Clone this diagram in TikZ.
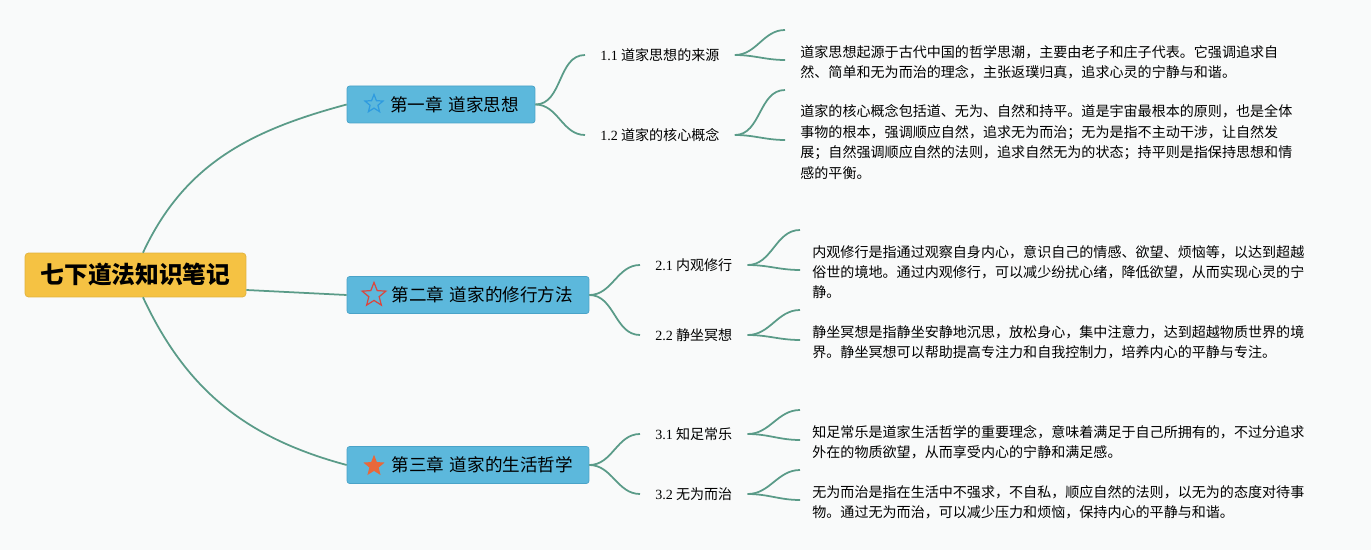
\documentclass[tikz,border=0pt]{standalone}
\usepackage{fontspec}
\setmainfont{Noto Sans CJK SC}
\newfontfamily\numfont{Liberation Serif}
\usetikzlibrary{shapes.geometric}
\definecolor{bgcol}{HTML}{F9FAFA}
\definecolor{rootcol}{HTML}{F5C243}
\definecolor{chapcol}{HTML}{5CB8DC}
\definecolor{chapline}{HTML}{4AA3C8}
\definecolor{linkcol}{HTML}{5A9B88}
\definecolor{staronecol}{HTML}{2F9BDF}
\definecolor{startwocol}{HTML}{D9473F}
\definecolor{starthreecol}{HTML}{E8683B}

\begin{document}
\begin{tikzpicture}[x=0.02cm, y=-0.02cm, rootbox/.style={fill=rootcol, draw=rootcol!92!black, rounded corners=2pt, minimum width=4.42cm, minimum height=0.88cm, font=\fontsize{13.5}{16}\selectfont\bfseries}, chap/.style={fill=chapcol, draw=chapline, rounded corners=1.5pt, inner xsep=0.32cm, minimum height=0.74cm, align=right, font=\fontsize{10}{12}\selectfont}, leaf/.style={anchor=west, inner xsep=0.3cm, font=\fontsize{8}{10}\selectfont}, note/.style={anchor=west, inner xsep=0.3cm, align=left, font=\fontsize{8}{11.6}\selectfont}, link/.style={draw=linkcol, line width=1pt}, starmark/.style={star, star points=5, star point ratio=2.3, inner sep=0pt, line width=0.7pt}]
\useasboundingbox[fill=bgcol] (0,0) rectangle (1371,550);
\node[rootbox] (root) at (135.5,275) {七下道法知识笔记};
\node[chap, text width=3.12cm] (ch1) at (441,104.5) {第一章 道家思想};
\node[chap, text width=4.2cm] (ch2) at (468,295) {第二章 道家的修行方法};
\node[chap, text width=4.2cm] (ch3) at (468,465) {第三章 道家的生活哲学};
\node[starmark, draw=staronecol, minimum size=0.38cm] (star1) at (374,104) {};
\node[starmark, draw=startwocol, minimum size=0.5cm] (star2) at (374,295) {};
\node[starmark, draw=starthreecol, fill=starthreecol, minimum size=0.38cm] (star3) at (374,466) {};
\node[leaf] (l11) at (585,55) {{\numfont 1.1} 道家思想的来源};
\node[leaf] (l12) at (585,135) {{\numfont 1.2} 道家的核心概念};
\node[leaf] (l21) at (640,265) {{\numfont 2.1} 内观修行};
\node[leaf] (l22) at (640,335) {{\numfont 2.2} 静坐冥想};
\node[leaf] (l31) at (640,434) {{\numfont 3.1} 知足常乐};
\node[leaf] (l32) at (640,494) {{\numfont 3.2} 无为而治};
\node[note] (d11) at (785,62) {道家思想起源于古代中国的哲学思潮，主要由老子和庄子代表。它强调追求自\\然、简单和无为而治的理念，主张返璞归真，追求心灵的宁静与和谐。};
\node[note] (d12) at (785,142) {道家的核心概念包括道、无为、自然和持平。道是宇宙最根本的原则，也是全体\\事物的根本，强调顺应自然，追求无为而治；无为是指不主动干涉，让自然发\\展；自然强调顺应自然的法则，追求自然无为的状态；持平则是指保持思想和情\\感的平衡。};
\node[note] (d21) at (797,272) {内观修行是指通过观察自身内心，意识自己的情感、欲望、烦恼等，以达到超越\\俗世的境地。通过内观修行，可以减少纷扰心绪，降低欲望，从而实现心灵的宁\\静。};
\node[note] (d22) at (797,342) {静坐冥想是指静坐安静地沉思，放松身心，集中注意力，达到超越物质世界的境\\界。静坐冥想可以帮助提高专注力和自我控制力，培养内心的平静与专注。};
\node[note] (d31) at (797,442) {知足常乐是道家生活哲学的重要理念，意味着满足于自己所拥有的，不过分追求\\外在的物质欲望，从而享受内心的宁静和满足感。};
\node[note] (d32) at (797,502) {无为而治是指在生活中不强求，不自私，顺应自然的法则，以无为的态度对待事\\物。通过无为而治，可以减少压力和烦恼，保持内心的平静与和谐。};
\coordinate (e11a) at (785,30); \coordinate (e11b) at (785,60);
\coordinate (e12a) at (785,90); \coordinate (e12b) at (785,140);
\coordinate (e21a) at (800,230); \coordinate (e21b) at (800,270);
\coordinate (e22a) at (800,310); \coordinate (e22b) at (800,340);
\coordinate (e31a) at (800,410); \coordinate (e31b) at (800,440);
\coordinate (e32a) at (800,470); \coordinate (e32b) at (800,500);
\draw[link] ([xshift=0.15cm]root.north) to[out=65,in=195] (ch1.west); \draw[link] ([yshift=-0.3cm]root.east) -- (ch2.west); \draw[link] ([xshift=0.15cm]root.south) to[out=-65,in=165] (ch3.west);
\draw[link] (ch1.east) to[out=0,in=180] (l11.west); \draw[link] (ch1.east) to[out=0,in=180] (l12.west);
\draw[link] (ch2.east) to[out=0,in=180] (l21.west); \draw[link] (ch2.east) to[out=0,in=180] (l22.west);
\draw[link] (ch3.east) to[out=0,in=180] (l31.west); \draw[link] (ch3.east) to[out=0,in=180] (l32.west);
\draw[link] (l11.east) to[out=0,in=180] (e11a); \draw[link] (l11.east) to[out=0,in=180] (e11b);
\draw[link] (l12.east) to[out=0,in=180] (e12a); \draw[link] (l12.east) to[out=0,in=180] (e12b);
\draw[link] (l21.east) to[out=0,in=180] (e21a); \draw[link] (l21.east) to[out=0,in=180] (e21b);
\draw[link] (l22.east) to[out=0,in=180] (e22a); \draw[link] (l22.east) to[out=0,in=180] (e22b);
\draw[link] (l31.east) to[out=0,in=180] (e31a); \draw[link] (l31.east) to[out=0,in=180] (e31b);
\draw[link] (l32.east) to[out=0,in=180] (e32a); \draw[link] (l32.east) to[out=0,in=180] (e32b);
\end{tikzpicture}
\end{document}
